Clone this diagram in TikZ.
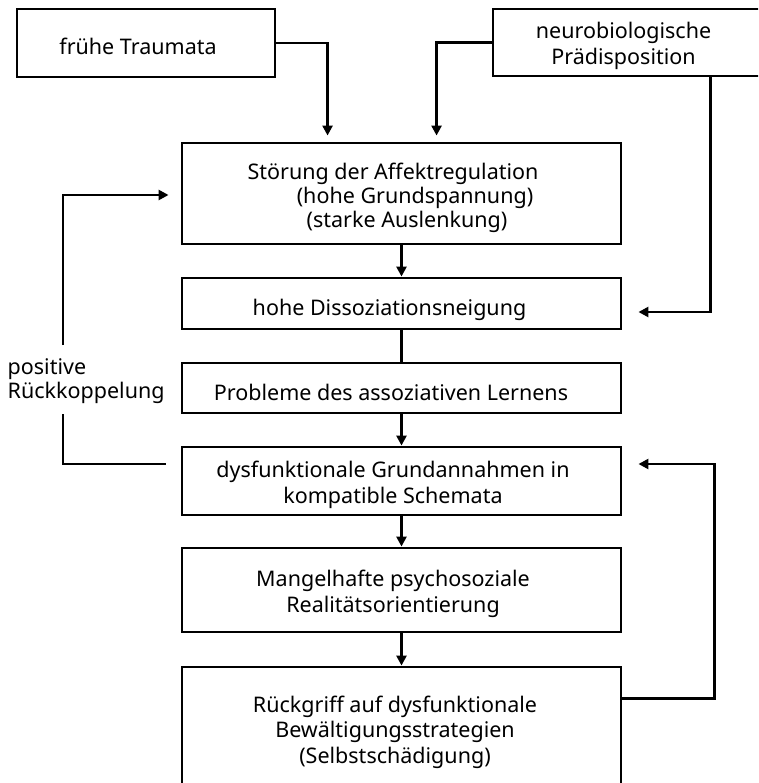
\documentclass[tikz,border=0pt]{standalone}
\usepackage{fontspec}
\setmainfont{Noto Sans}
\usetikzlibrary{arrows.meta,fit}
\begin{document}
\begin{tikzpicture}[x=1pt,y=-1pt,
  box/.style={draw, line width=2.9pt, inner sep=0pt, rectangle},
  txt/.style={align=center, font=\fontsize{21.5}{25.5}\selectfont, inner sep=0pt},
  link/.style={line width=2.6pt},
  arr/.style={link, -{Triangle[length=10pt,width=10pt]}}]
\useasboundingbox (0,0) rectangle (758,783);
\clip (0,0) rectangle (758,783);

% boxes
\node[box, fit={(17,9) (275,77)}] (trauma) {};
\node[box, fit={(493,9) (800,76)}] (neuro) {};
\node[box, fit={(182,143) (621,244)}] (stoer) {};
\node[box, fit={(182,278) (621,329)}] (diss) {};
\node[box, fit={(182,363) (621,413)}] (prob) {};
\node[box, fit={(182,447) (621,515)}] (dysf) {};
\node[box, fit={(182,548) (621,632)}] (mang) {};
\node[box, fit={(182,667) (621,800)}] (rueck) {};

% texts
\node[txt] (ttrauma) at (138,46) {frühe Traumata};
\node[txt] (tneuro) at (623.5,46) {neurobiologische\\Prädisposition};
\node[txt, font=\fontsize{21.5}{24}\selectfont] (tstoer) at (393,197.5)
  {Störung der Affektregulation\\\hspace*{44pt}(hohe Grundspannung)\\\hspace*{28pt}(starke Auslenkung)};
\node[txt] (tdiss) at (389.5,310) {hohe Dissoziationsneigung};
\node[txt] (tprob) at (391,392) {Probleme des assoziativen Lernens};
\node[txt, font=\fontsize{21.5}{26}\selectfont] (tdysf) at (393,485) {dysfunktionale Grundannahmen in\\kompatible Schemata};
\node[txt] (tmang) at (393,594) {Mangelhafte psychosoziale\\Realitätsorientierung};
\node[txt] (trueck) at (395,732) {Rückgriff auf dysfunktionale\\Bewältigungsstrategien\\(Selbstschädigung)};
\node[txt, align=left, anchor=west, font=\fontsize{21.5}{24}\selectfont] (tfb) at (7.5,381.5) {positive\\Rückkoppelung};

% connectors
\draw[arr, shorten >=6pt] (trauma.east) -| ([xshift=147pt]stoer.north west);
\draw[arr, shorten >=6pt] (neuro.west) -| ([xshift=256pt]stoer.north west);
\draw[arr] ([xshift=219pt]neuro.south west) |- ([xshift=16pt,yshift=-8.5pt]diss.east);
\draw[arr] (stoer.south) -- (diss.north);
\draw[link] (diss.south) -- (prob.north);
\draw[arr] (prob.south) -- (dysf.north);
\draw[arr] (dysf.south) -- (mang.north);
\draw[arr] (mang.south) -- (rueck.north);
\draw[arr] ([yshift=-33pt]rueck.north east) -| ([xshift=92pt,yshift=17pt]dysf.east) -- ([xshift=16pt,yshift=17pt]dysf.east);

% feedback loop, broken around its label
\coordinate (fblow) at (63,414);
\coordinate (fbhigh) at (63,345);
\draw[link] ([xshift=-15pt,yshift=17pt]dysf.west) -| (fblow);
\draw[arr] (fbhigh) |- ([xshift=-12pt,yshift=-1.5pt]stoer.west);
\end{tikzpicture}
\end{document}
